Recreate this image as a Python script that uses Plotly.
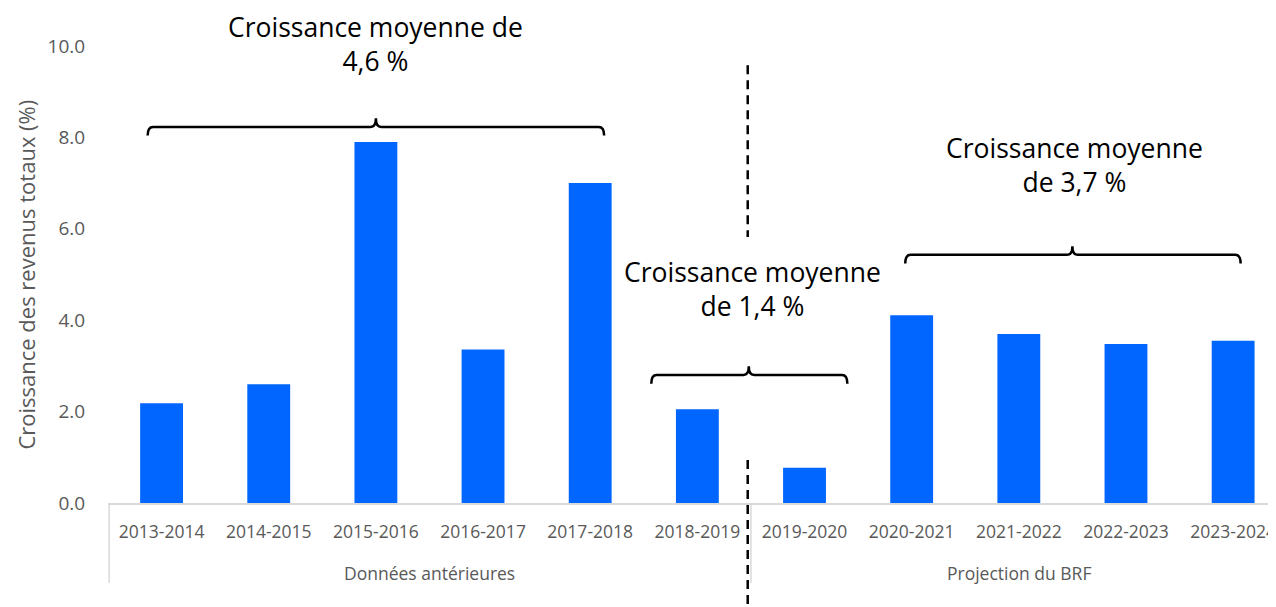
import plotly.graph_objects as go

categories = ["2013-2014", "2014-2015", "2015-2016", "2016-2017", "2017-2018",
              "2018-2019", "2019-2020", "2020-2021", "2021-2022", "2022-2023", "2023-2024"]
growth = [2.18, 2.6, 7.9, 3.36, 7.0, 2.05, 0.77, 4.11, 3.7, 3.48, 3.55]
groups = ["Données antérieures", "Projection du BRF"]
group_centers = [2.5, 8.0]
y_ticks = [0, 2, 4, 6, 8, 10]
y_title = "Croissance des revenus totaux (%)"

# brackets: (start idx, end idx, centre idx, line value, label, label x, label y in paper)
brackets = [
    (-0.13, 4.13, 2.0, 8.23, "Croissance moyenne de<br>4,6 %", 2.0, 1.004),
    (4.57, 6.4, 5.48, 2.80, "Croissance moyenne<br>de 1,4 %", 5.51, 0.468),
    (6.94, 10.07, 8.5, 5.43, "Croissance moyenne<br>de 3,7 %", 8.52, 0.740),
]

FONT = "Open Sans"
GRAY = "#595959"

fig = go.Figure()
fig.add_trace(go.Bar(x=categories, y=growth, marker_color="#0066ff",
                     marker_line_width=0, width=0.4))

shapes = []
for x0, x1, xc, yl, _, _, _ in brackets:
    dx = 0.05
    dy = 0.19
    path = (f"M {x0},{yl-dy} Q {x0},{yl} {x0+dx},{yl} L {xc-dx},{yl} "
            f"Q {xc},{yl} {xc},{yl+dy} Q {xc},{yl} {xc+dx},{yl} "
            f"L {x1-dx},{yl} Q {x1},{yl} {x1},{yl-dy}")
    shapes.append(dict(type="path", path=path, xref="x", yref="y",
                       line=dict(color="black", width=2.5)))

# vertical dashed separator
sep = 5.47
shapes.append(dict(type="line", xref="x", yref="y", x0=sep, x1=sep, y0=9.58, y1=5.82,
                   line=dict(color="black", width=2.5, dash="9px,6px")))
shapes.append(dict(type="line", xref="x", yref="paper", x0=sep, x1=sep, y0=0.094, y1=-0.24,
                   line=dict(color="black", width=2.5, dash="9px,6px")))
# group dividers of the category axis
shapes.append(dict(type="line", xref="paper", yref="paper", x0=0.001, x1=0.001, y0=0, y1=-0.175,
                   line=dict(color="#d9d9d9", width=1.5)))
shapes.append(dict(type="line", xref="x", yref="paper", x0=5.5, x1=5.5, y0=0, y1=-0.175,
                   line=dict(color="#d9d9d9", width=1.5)))

annotations = []
for _, _, _, _, label, lx, ly in brackets:
    annotations.append(dict(text=label, x=lx, y=ly, xref="x", yref="paper", showarrow=False,
                            xanchor="center", yanchor="middle", borderpad=0,
                            font=dict(family=FONT, size=26.5, color="black")))
for g, gc in zip(groups, group_centers):
    annotations.append(dict(text=g, x=gc, y=-0.153, xref="x", yref="paper", showarrow=False,
                            xanchor="center", yanchor="middle",
                            font=dict(family=FONT, size=17.5, color=GRAY)))
annotations.append(dict(text=y_title, x=-0.071, y=0.5, xref="paper", yref="paper",
                        showarrow=False, textangle=-90, xanchor="center", yanchor="middle",
                        font=dict(family=FONT, size=22, color=GRAY)))

# the page body has an 8px margin: shrink and shift the figure to compensate
fig.update_layout(
    width=1268, height=599,
    margin=dict(l=100, r=0, t=38, b=104),
    paper_bgcolor="white", plot_bgcolor="white",
    showlegend=False,
    shapes=shapes, annotations=annotations,
    font=dict(family=FONT, color=GRAY),
    xaxis=dict(type="category", categoryorder="array", categoryarray=categories,
               range=[-0.5, 10.4], showgrid=False, zeroline=False,
               showline=True, linecolor="#d9d9d9", linewidth=1.5,
               ticks="outside", ticklen=12, tickcolor="rgba(0,0,0,0)",
               tickfont=dict(family=FONT, size=17.5, color=GRAY)),
    yaxis=dict(range=[0, 10], tickvals=y_ticks, tickformat=".1f",
               showgrid=False, zeroline=False, showline=False,
               ticks="outside", ticklen=18, tickcolor="rgba(0,0,0,0)",
               tickfont=dict(family=FONT, size=19, color=GRAY)),
)

fig.write_html("out.html")
